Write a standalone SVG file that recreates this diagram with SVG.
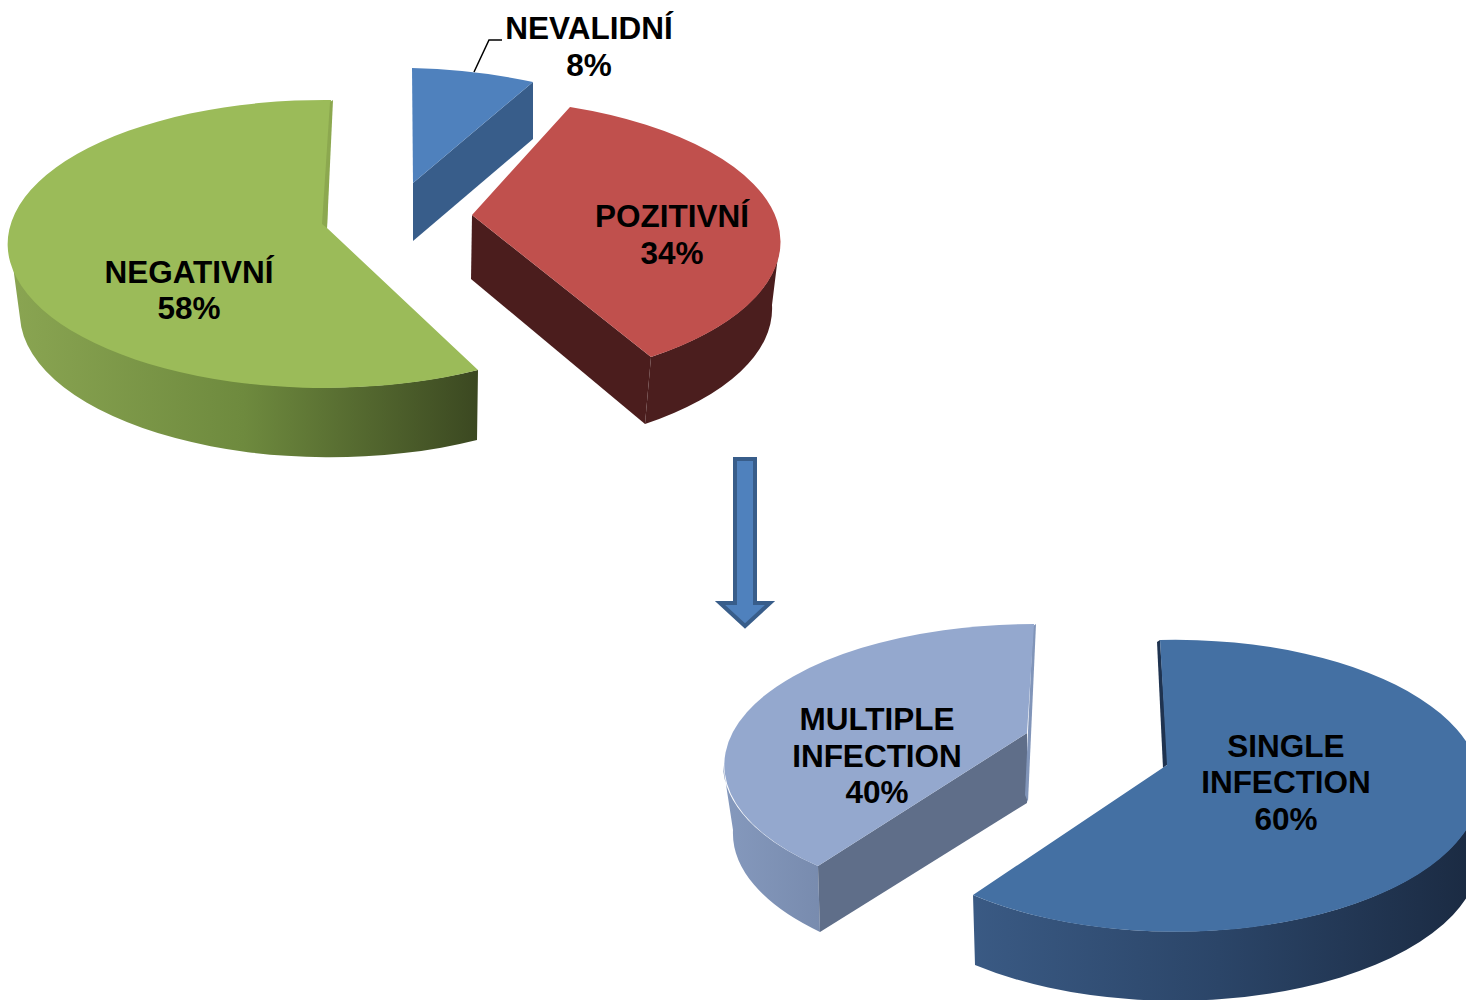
<svg xmlns="http://www.w3.org/2000/svg" width="1466" height="1000" viewBox="0 0 1466 1000">
<style>
  text { font-family: "Liberation Sans", Arial, sans-serif; font-weight: bold; font-size: 31.5px; fill: #000; text-anchor: middle; }
  .leader { fill: none; stroke: #000; stroke-width: 1.5; }
</style>
<defs>
  <linearGradient id="gSide" gradientUnits="userSpaceOnUse" x1="10" y1="0" x2="478" y2="0">
    <stop offset="0" stop-color="#8aa552"/>
    <stop offset="0.5" stop-color="#6e8a3e"/>
    <stop offset="1" stop-color="#3b4821"/>
  </linearGradient>
  <linearGradient id="mSide" gradientUnits="userSpaceOnUse" x1="723" y1="0" x2="822" y2="0">
    <stop offset="0" stop-color="#8599bd"/>
    <stop offset="1" stop-color="#788bae"/>
  </linearGradient>
  <linearGradient id="sSide" gradientUnits="userSpaceOnUse" x1="972" y1="0" x2="1466" y2="0">
    <stop offset="0" stop-color="#3a5a84"/>
    <stop offset="0.5" stop-color="#2b4568"/>
    <stop offset="1" stop-color="#1b2b43"/>
  </linearGradient>
</defs>

<g id="slice-negativni">
  <path d="M 10,244 A 317 144 0 0 0 478,370 L 477,440 A 310 144 0 0 1 20,318 Z" fill="url(#gSide)"/>
  <path d="M 327,228 L 331,100 A 317 144 0 1 0 478,370 Z" fill="#9bbb59"/>
  <path d="M 330,102 L 333,100 L 327,228 L 322,224 Z" fill="#8ca84f"/>
  <text x="189" y="283">NEGATIVNÍ</text>
  <text x="189" y="319">58%</text>
</g>

<g id="slice-nevalidni">
  <path d="M 413,183 L 533,82 L 533,139 L 413,241 Z" fill="#385d8a"/>
  <path d="M 413,183 L 412,68 A 317 143 0 0 1 533,82 Z" fill="#4f81bd"/>
  <polyline class="leader" points="474,72 489,40 502,40"/>
  <text x="589" y="39">NEVALIDNÍ</text>
  <text x="589" y="76">8%</text>
</g>

<g id="slice-pozitivni">
  <path d="M 780,240 A 317 143 0 0 1 651,357 L 645,424 A 312 143 0 0 0 772,305 Z" fill="#4b1e1e"/>
  <path d="M 472,215 L 651,357 L 645,424 L 471,279 Z" fill="#4b1d1d"/>
  <path d="M 472,215 L 570,107 A 317 143 0 0 1 651,357 Z" fill="#c0504d"/>
  <text x="672" y="227">POZITIVNÍ</text>
  <text x="672" y="264">34%</text>
</g>

<g id="connectors">
  <path id="arrow" d="M 735,459 L 755,459 L 755,603 L 770,603 L 745,626 L 720,603 L 735,603 Z" fill="#4f81bd" stroke="#385d8a" stroke-width="4" stroke-linejoin="miter"/>
</g>

<g id="slice-multiple">
  <path d="M 723,765 A 310 141 0 0 0 818,866 L 820,932 A 303 141 0 0 1 733,830 Z" fill="url(#mSide)"/>
  <path d="M 1027,733 L 818,866 L 820,932 L 1027,803 Z" fill="#5f6e89"/>
  <path d="M 1033,626 L 1036,624 L 1028,802 L 1025,795 Z" fill="#8195b9"/>
  <path d="M 1027,733 L 1034,624 A 310 141 0 0 0 818,866 Z" fill="#94a8ce"/>
  <text x="877" y="730">MULTIPLE</text>
  <text x="877" y="767">INFECTION</text>
  <text x="877" y="803">40%</text>
</g>

<g id="slice-single">
  <path d="M 973,895 A 305 146 0 0 0 1480,786 L 1480,854 A 305 146 0 0 1 975,965 Z" fill="url(#sSide)"/>
  <path d="M 1157,642 L 1160,640 L 1168,764 L 1163,768 Z" fill="#1f3350"/>
  <path d="M 1167,765 L 1160,640 A 305 146 0 1 1 973,895 Z" fill="#4470a3"/>
  <text x="1286" y="757">SINGLE</text>
  <text x="1286" y="793">INFECTION</text>
  <text x="1286" y="830">60%</text>
</g>
</svg>
